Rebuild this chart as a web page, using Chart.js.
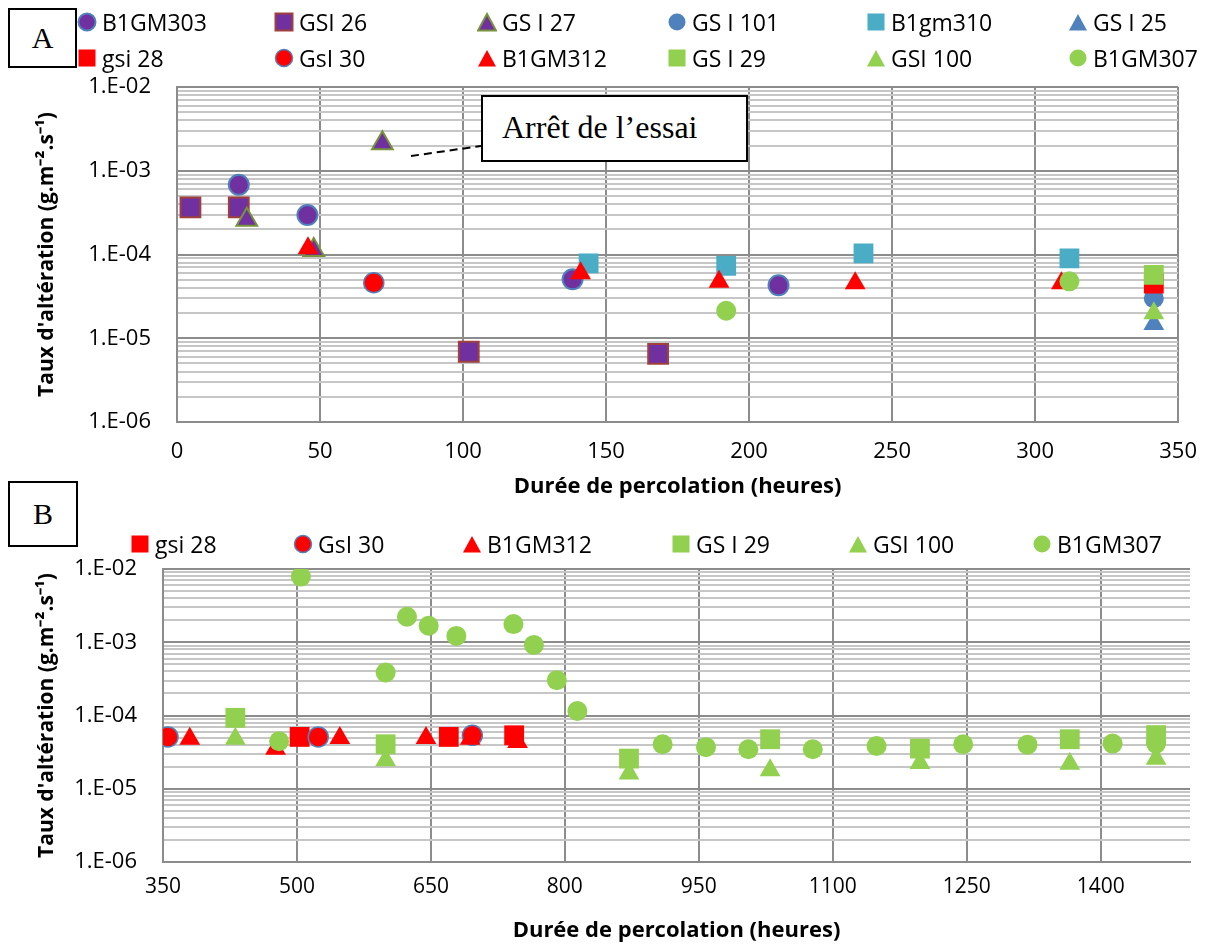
<!DOCTYPE html>
<html>
<head>
<meta charset="utf-8">
<script src="https://cdn.jsdelivr.net/npm/chart.js@4.4.1/dist/chart.umd.min.js"></script>
<style>
  body { margin:0; background:#fff; width:1214px; height:947px; position:relative; overflow:hidden; font-family:'Open Sans', sans-serif; }
  canvas { position:absolute; left:0; }
  #chartA { top:0; }
  #chartB { top:500px; }
  .tag { position:absolute; border:2px solid #000; box-sizing:border-box; background:#fff;
         font-family:'Liberation Serif', serif; font-size:30px; display:flex; align-items:center; justify-content:center; }
  .note { position:absolute; left:481px; top:95px; width:267px; height:67px; border:2px solid #000; box-sizing:border-box;
          background:#fff; font-family:'Liberation Serif', serif; font-size:32px; line-height:60px; padding-left:19px; white-space:nowrap; }
  .leg { position:absolute; height:30px; display:flex; align-items:center; font-size:23px; white-space:nowrap; color:#000; }
  .leg svg { margin-right:5px; flex:none; }
</style>
</head>
<body>
<canvas id="chartA" width="1214" height="500"></canvas>
<canvas id="chartB" width="1214" height="447"></canvas>
<div class="tag" style="left:8px;top:8px;width:69px;height:60px">A</div>
<div class="tag" style="left:8px;top:481px;width:70px;height:66px">B</div>
<div class="note">Arrêt de l’essai</div>
<div id="legends"></div>
<script>
// ── data : chart A (0–350 h) ───────────────────────────────────────────────
const A_NAMES = ['B1GM303','GSI 26','GS I 27','GS I 101','B1gm310','GS I 25',
                 'gsi 28','GsI 30','B1GM312','GS I 29','GSI 100','B1GM307'];
const A_X_TICKS = [0, 50, 100, 150, 200, 250, 300, 350];

const hA_B1GM303 = [21.6, 45.6, 138.3, 210.3];
const rA_B1GM303 = [6.8e-4, 2.96e-4, 5.06e-5, 4.29e-5];
const hA_GSI26   = [4.7, 21.6, 102, 168.2];
const rA_GSI26   = [3.66e-4, 3.66e-4, 6.9e-6, 6.5e-6];
const hA_GSI27   = [24.4, 47.8, 71.8];
const rA_GSI27   = [2.6e-4, 1.13e-4, 2.13e-3];
const hA_GSI101  = [341.5];
const rA_GSI101  = [3.0e-5];
const hA_B1gm310 = [143.9, 192, 240, 312];
const rA_B1gm310 = [7.85e-5, 7.3e-5, 1.03e-4, 9.0e-5];
const hA_GSI25   = [341.5];
const rA_GSI25   = [1.48e-5];
const hA_gsi28   = [341.5];
const rA_gsi28   = [4.5e-5];
const hA_GsI30   = [68.8];
const rA_GsI30   = [4.6e-5];
const hA_B1GM312 = [45.8, 141.1, 189.5, 237.1, 309.2];
const rA_B1GM312 = [1.19e-4, 5.96e-5, 4.74e-5, 4.53e-5, 4.53e-5];
const hA_GSI29   = [341.5];
const rA_GSI29   = [5.7e-5];
const hA_GSI100  = [341.5];
const rA_GSI100  = [1.99e-5];
const hA_B1GM307 = [192, 312];
const rA_B1GM307 = [2.13e-5, 4.78e-5];

const A_H = [hA_B1GM303, hA_GSI26, hA_GSI27, hA_GSI101, hA_B1gm310, hA_GSI25,
             hA_gsi28, hA_GsI30, hA_B1GM312, hA_GSI29, hA_GSI100, hA_B1GM307];
const A_R = [rA_B1GM303, rA_GSI26, rA_GSI27, rA_GSI101, rA_B1gm310, rA_GSI25,
             rA_gsi28, rA_GsI30, rA_B1GM312, rA_GSI29, rA_GSI100, rA_B1GM307];

// ── data : chart B (350–1500 h) ────────────────────────────────────────────
const B_NAMES = ['gsi 28','GsI 30','B1GM312','GS I 29','GSI 100','B1GM307'];
const B_X_TICKS = [350, 500, 650, 800, 950, 1100, 1250, 1400];

const hB_gsi28   = [503, 670, 743.2];
const rB_gsi28   = [5.1e-5, 5.1e-5, 5.37e-5];
const hB_GsI30   = [355.6, 523.8, 696.4];
const rB_GsI30   = [5.1e-5, 5.1e-5, 5.37e-5];
const hB_B1GM312 = [380, 476, 548, 644.5, 694, 747];
const rB_B1GM312 = [4.8e-5, 3.53e-5, 4.94e-5, 4.94e-5, 4.8e-5, 4.35e-5];
const hB_GSI29   = [431, 599.3, 871.8, 1029.8, 1197.6, 1365.4, 1462];
const rB_GSI29   = [9.3e-5, 4.05e-5, 2.58e-5, 4.74e-5, 3.53e-5, 4.74e-5, 5.4e-5];
const hB_GSI100  = [431, 599.3, 871.8, 1029.8, 1197.6, 1365.4, 1462];
const rB_GSI100  = [4.8e-5, 2.45e-5, 1.61e-5, 1.79e-5, 2.25e-5, 2.2e-5, 2.57e-5];
const hB_B1GM307 = [480, 504.4, 599.3, 623.2, 647.5, 678.5, 742.4, 765.3, 791, 814,
                    909.5, 958, 1005.5, 1077.6, 1149, 1246, 1318, 1413.3, 1462];
const rB_B1GM307 = [4.45e-5, 7.87e-3, 3.87e-4, 2.23e-3, 1.68e-3, 1.22e-3, 1.77e-3, 9.2e-4, 3.04e-4, 1.15e-4,
                    4.05e-5, 3.7e-5, 3.46e-5, 3.46e-5, 3.84e-5, 4.05e-5, 4.0e-5, 4.14e-5, 4.14e-5];

const B_H = [hB_gsi28, hB_GsI30, hB_B1GM312, hB_GSI29, hB_GSI100, hB_B1GM307];
const B_R = [rB_gsi28, rB_GsI30, rB_B1GM312, rB_GSI29, rB_GSI100, rB_B1GM307];

const Y_MIN = 1e-6, Y_MAX = 1e-2;
const X_TITLE = 'Durée de percolation (heures)';
const Y_TITLE = 'Taux d\'altération (g.m\u207B\u00B2.s\u207B\u00B9)';

// ── styles ─────────────────────────────────────────────────────────────────
const STYLE = {
  'B1GM303': { shape:'circle',   fill:'#7030A0', line:'#4F81BD', lw:2 },
  'GSI 26':  { shape:'rect',     fill:'#7030A0', line:'#A0403C', lw:2 },
  'GS I 27': { shape:'triangle', fill:'#7030A0', line:'#77933C', lw:2 },
  'GS I 101':{ shape:'circle',   fill:'#4F81BD', line:'#4F81BD', lw:0 },
  'B1gm310': { shape:'rect',     fill:'#4BACC6', line:'#4BACC6', lw:0 },
  'GS I 25': { shape:'triangle', fill:'#4F81BD', line:'#4F81BD', lw:0 },
  'gsi 28':  { shape:'rect',     fill:'#FF0000', line:'#FF0000', lw:0 },
  'GsI 30':  { shape:'circle',   fill:'#FF0000', line:'#4F81BD', lw:1.5 },
  'B1GM312': { shape:'triangle', fill:'#FF0000', line:'#FF0000', lw:0 },
  'GS I 29': { shape:'rect',     fill:'#92D050', line:'#92D050', lw:0 },
  'GSI 100': { shape:'triangle', fill:'#92D050', line:'#92D050', lw:0 },
  'B1GM307': { shape:'circle',   fill:'#92D050', line:'#92D050', lw:0 }
};
const RADIUS = { circle:10, rect:14, triangle:12 };
const MAJOR = '#8c8c8c', MINOR = '#c6c6c6';
const FONT = "'Open Sans', sans-serif";

const isDecade = v => Math.abs(Math.log10(v) - Math.round(Math.log10(v))) < 1e-6;
const mant = v => v / Math.pow(10, Math.floor(Math.log10(v) + 1e-9));

function datasets(names, hs, rs) {
  return names.map((n, i) => {
    const s = STYLE[n];
    return {
      label: n,
      data: hs[i].map((h, j) => ({ x: h, y: rs[i][j] })),
      pointStyle: s.shape, pointRadius: RADIUS[s.shape], pointHoverRadius: RADIUS[s.shape],
      backgroundColor: s.fill, borderColor: s.line, borderWidth: s.lw,
      order: names.length - i   // later series on top, like the spreadsheet
    };
  });
}

function options(o) {
  return {
    responsive:false, animation:false, events:[],
    layout:{ padding:{ top:o.padTop, right:o.padRight, left:0, bottom:0 } },
    plugins:{ legend:{ display:false }, tooltip:{ enabled:false } },
    scales:{
      x:{
        type:'linear', min:o.xMin, max:o.xMax,
        afterBuildTicks: sc => { sc.ticks = o.xTicks.map(v => ({ value:v })); },
        afterFit: sc => { sc.height = o.xHeight; },
        ticks:{ color:'#000', font:{ family:FONT, size:o.tickSize }, padding:o.xTickPad, maxRotation:0,
                callback: v => String(v) },
        grid:{ color:MAJOR, lineWidth:2, drawTicks:false },
        border:{ color:MAJOR, width:2 },
        title:{ display:true, text:X_TITLE, color:'#000', font:{ family:FONT, size:22, weight:'bold' },
                padding:{ top:0, bottom:o.xTitlePad } }
      },
      y:{
        type:'logarithmic', min:Y_MIN, max:Y_MAX,
        afterBuildTicks: sc => { sc.ticks = sc.ticks.filter(t => Math.abs(mant(t.value) - Math.round(mant(t.value))) < 1e-6); },
        afterFit: sc => { sc.width = o.yWidth; },
        ticks:{ autoSkip:false, color:'#000', font:{ family:FONT, size:22 }, padding:26,
                callback: v => isDecade(v) ? '1.E-' + String(-Math.round(Math.log10(v))).padStart(2, '0') : '' },
        grid:{ drawTicks:false, lineWidth:2, color: c => isDecade(c.tick.value) ? MAJOR : MINOR },
        border:{ color:MAJOR, width:2 },
        title:{ display:true, text:Y_TITLE, color:'#000', font:{ family:FONT, size:21, weight:'bold' },
                padding:{ top:34, bottom:0 } }
      }
    }
  };
}

// dashed leader from the stopped GS I 27 point to the note box
const stopLeader = {
  id:'stopLeader',
  afterDatasetsDraw(chart) {
    const c = chart.ctx;
    c.save();
    c.setLineDash([8, 5]); c.lineWidth = 2; c.strokeStyle = '#000';
    c.beginPath(); c.moveTo(411, 156); c.lineTo(481, 146); c.stroke();
    c.restore();
  }
};

new Chart(document.getElementById('chartA'), {
  type:'scatter',
  data:{ datasets: datasets(A_NAMES, A_H, A_R) },
  options: options({ xMin:0, xMax:350, xTicks:A_X_TICKS, padTop:87, padRight:27, yWidth:177,
                     xHeight:78, xTickPad:17, xTitlePad:0, tickSize:22 }),
  plugins:[stopLeader]
});

new Chart(document.getElementById('chartB'), {
  type:'scatter',
  data:{ datasets: datasets(B_NAMES, B_H, B_R) },
  options: options({ xMin:350, xMax:1500, xTicks:B_X_TICKS, padTop:69, padRight:24, yWidth:163,
                     xHeight:85, xTickPad:12, xTitlePad:3, tickSize:21 })
});

// ── legends (fixed columns as in the original) ─────────────────────────────
function marker(s) {
  const st = `fill="${s.fill}" stroke="${s.line}" stroke-width="${s.lw || 0}"`;
  let shape;
  if (s.shape === 'circle') shape = `<circle cx="10" cy="10" r="8.5" ${st}/>`;
  else if (s.shape === 'rect') shape = `<rect x="1.5" y="1.5" width="17" height="17" ${st}/>`;
  else shape = `<polygon points="1,18.5 19,18.5 10,2" ${st}/>`;
  return `<svg width="20" height="20" viewBox="0 0 20 20">${shape}</svg>`;
}
function legend(names, cols, rows) {
  const box = document.getElementById('legends');
  names.forEach((n, i) => {
    const d = document.createElement('div');
    d.className = 'leg';
    d.style.left = (cols[i % cols.length] - 10) + 'px';
    d.style.top = (rows[Math.floor(i / cols.length)] - 15) + 'px';
    d.innerHTML = marker(STYLE[n]) + '<span>' + n + '</span>';
    box.appendChild(d);
  });
}
legend(A_NAMES, [87, 284, 487, 677, 876, 1078], [22, 58]);
legend(B_NAMES, [140, 303, 472, 681, 858, 1042], [544]);
</script>
</body>
</html>
